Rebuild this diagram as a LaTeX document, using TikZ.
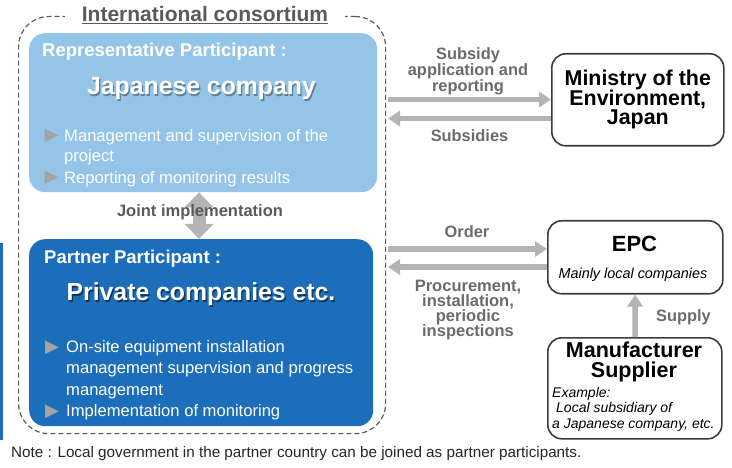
\documentclass[tikz,border=0pt]{standalone}
\usepackage{fontspec}
\setmainfont{Liberation Sans}
\newfontfamily\symfont{DejaVu Sans}
\usepackage{xcolor}
\usepackage{tikz}
\usetikzlibrary{positioning, arrows.meta}

\definecolor{repblue}{HTML}{95C4E9}
\definecolor{partblue}{HTML}{1C6EBA}
\definecolor{arrgray}{HTML}{B4B4B4}
\definecolor{lblgray}{HTML}{6B6B6B}
\definecolor{ttlgray}{HTML}{5A5A5A}
\definecolor{edgegray}{HTML}{3C3C3C}
\definecolor{bulgray}{HTML}{A3A3A3}

\newcommand{\fsz}[2]{\fontsize{#1}{#2}\selectfont\lineskiplimit=-100pt\relax}

\begin{document}
\begin{tikzpicture}[
      x=1pt, y=-1pt,
      every node/.style={inner sep=0pt},
      consort/.style={draw=ttlgray, dash pattern=on 5pt off 3pt, line width=1.2pt,
                      rounded corners=30pt, anchor=north west},
      panel/.style={rounded corners=16pt, anchor=north west},
      actor/.style={draw=edgegray, line width=1.6pt, rounded corners=14pt,
                    fill=white, anchor=north west},
      arr/.style={arrgray, line width=5.5pt, -{Triangle[length=12pt, width=15pt]}},
      dbl/.style={arrgray, line width=13pt,
                  {Triangle[length=15pt, width=28pt]}-{Triangle[length=15pt, width=28pt]}},
      lbl/.style={text=lblgray, font=\bfseries\fsz{16.4}{16}, align=center},
      head/.style={text=white, font=\bfseries\fsz{18.5}{20}, anchor=base west},
      big/.style={font=\bfseries\fsz{24.8}{26}, anchor=base},
      bul/.style={text=bulgray, font=\symfont\fsz{18}{18}},
      item/.style={text=white, font=\fsz{16.6}{20}, align=left, anchor=north west},
    ]
    \useasboundingbox (0,0) rectangle (732,468);

    %% Consortium frame + title
    \node[consort, minimum width=367, minimum height=417] (cons) at (18,16) {};
    \node[fill=white, inner xsep=17pt, inner ysep=2pt, anchor=base, text=ttlgray,
          font=\bfseries\fsz{21}{22}] (title) at (205,22) {\underline{International consortium}};

    %% Joint implementation (behind the panels)
    \node[panel, fill=repblue, minimum width=348, minimum height=159] (rep) at (29,33) {};
    \node[panel, fill=partblue, minimum width=344, minimum height=187] (part) at (29,239) {};
    \draw[dbl] (rep.south -| 199,0) -- (part.north -| 199,0);
    \node[text=ttlgray, font=\bfseries\fsz{16.5}{18}, anchor=base] (joint) at (200,217) {Joint implementation};

    %% Representative participant
    \node[big, text=repblue!65!black] (repshd) at (202.8,96.3) {Japanese company};
    \node[big, text=white] (repname) at (201.5,95) {Japanese company};
    \node[head] (repttl) at (42,57) {Representative Participant :};
    \node[bul] (rb1) at (51.5,136) {▶};
    \node[item] (ri1) at (64,129.4) {Management and supervision of the\\project};
    \node[bul] (rb2) at (51.5,177.5) {▶};
    \node[item] (ri2) at (64,170.9) {Reporting of monitoring results};

    %% Partner participant
    \node[head] (partttl) at (44,264) {Partner Participant :};
    \node[big, text=partblue!50!black] (partshd) at (202.3,302) {Private companies etc.};
    \node[big, text=white] (partname) at (201,300.7) {Private companies etc.};
    \node[bul] (pb1) at (52,347.5) {▶};
    \node[item, font=\fsz{16.6}{21.5}] (pi1) at (66,340) {On-site equipment installation\\management supervision and progress\\management};
    \node[bul] (pb2) at (52,412) {▶};
    \node[item] (pi2) at (66,404) {Implementation of monitoring};

    %% Side bar + note
    \node[fill=partblue, minimum width=3, minimum height=197, anchor=north west] (bar) at (0,243) {};
    \node[text=black!85, font=\fsz{15.25}{17}, anchor=base west] (note) at (11,457.5)
      {Note : Local government in the partner country can be joined as partner participants.};

    %% Ministry
    \node[actor, minimum width=172, minimum height=92, align=center,
          font=\bfseries\fsz{21.4}{19.5}] (moe) at (551,53) {Ministry of the\\Environment,\\Japan};

    %% EPC
    \node[actor, minimum width=175, minimum height=73] (epc) at (547,220) {};
    \node[font=\bfseries\fsz{22}{24}, anchor=base] (epcttl) at (634.5,252) {EPC};
    \node[font=\itshape\fsz{14.4}{16}, anchor=base] (epcsub) at (633,279) {Mainly local companies};

    %% Manufacturer
    \node[actor, minimum width=174, minimum height=101] (maker) at (547,337) {};
    \node[font=\bfseries\fsz{21.5}{20}, align=center, anchor=north] (makerttl) at (634,341.3) {Manufacturer\\Supplier};
    \node[font=\itshape\fsz{14}{15.5}, align=left, anchor=north west] (makersub) at (552,386.8)
      {Example:\\\hspace{4pt}Local subsidiary of\\a Japanese company, etc.};

    %% Flows
    \coordinate (s1) at (388,99.5);
    \coordinate (s2) at (388,118.5);
    \coordinate (s3) at (388,249);
    \coordinate (s4) at (388,267);
    \draw[arr] (s1) -- (s1 -| moe.west);
    \draw[arr] (s2 -| moe.west) -- (s2);
    \draw[arr] (s3) -- (s3 -| epc.west);
    \draw[arr] (s4 -| epc.west) -- (s4);
    \draw[arr] (maker) -- (epc);

    \node[lbl, anchor=north] (apply) at (468,47) {Subsidy\\application and\\reporting};
    \node[lbl, anchor=base] (subs) at (469.5,141.7) {Subsidies};
    \node[lbl, anchor=base] (order) at (467,238) {Order};
    \node[lbl, font=\bfseries\fsz{16.5}{15}, anchor=north] (proc) at (468,280.2)
      {Procurement,\\installation,\\periodic\\inspections};
    \node[lbl, anchor=base] (supply) at (683.5,322) {Supply};
  \end{tikzpicture}
\end{document}
